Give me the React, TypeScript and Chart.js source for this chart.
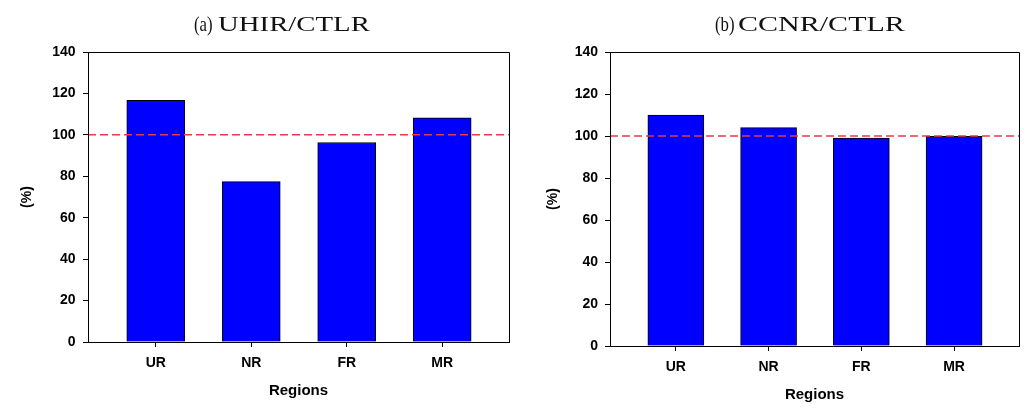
import React, { useEffect, useRef } from "react";
import { Chart, registerables } from "chart.js";

Chart.register(...registerables);

// ---- data ----
const categories = ["UR", "NR", "FR", "MR"];
const uhirValues = [116.7, 77.4, 96.3, 108.2];
const ccnrValues = [110.0, 104.0, 99.0, 99.8];
const referenceLevel = 100;
const yMin = 0;
const yMax = 140;
const yStep = 20;
const xMin = -0.71;
const xMax = 3.7;

const framePlugin = {
  id: "frame",
  afterDraw(chart: any) {
    const { ctx, chartArea } = chart;
    const l = Math.round(chartArea.left) + 0.5;
    const t = Math.round(chartArea.top) + 0.5;
    const r = Math.round(chartArea.right) + 0.5;
    const b = Math.round(chartArea.bottom) + 0.5;
    ctx.save();
    ctx.strokeStyle = "#000";
    ctx.lineWidth = 1;
    ctx.beginPath();
    ctx.moveTo(l, b);
    ctx.lineTo(l, t);
    ctx.lineTo(r, t);
    ctx.lineTo(r, b);
    ctx.lineTo(l, b);
    ctx.stroke();
    ctx.restore();
  },
};

type PanelCfg = {
  values: number[];
  yWidth: number;
  padRight: number;
  xHeight: number;
  xTitlePadBottom: number;
  yTitlePadTop: number;
  barThickness: number;
  yTickPad: number;
};

const tickFont = { family: "'Liberation Sans', Arial, sans-serif", size: 14, weight: "bold" as const };
const xTickFont = { family: "'Liberation Sans', Arial, sans-serif", size: 14, weight: "bold" as const };

function Panel({ cfg }: { cfg: PanelCfg }) {
  const ref = useRef<HTMLCanvasElement | null>(null);
  useEffect(() => {
    if (!ref.current) return;
    const chart = new Chart(ref.current, {
      type: "bar",
      data: {
        datasets: [
          {
            type: "line",
            data: [
              { x: xMin, y: referenceLevel },
              { x: xMax, y: referenceLevel },
            ],
            borderColor: "#e43c4c",
            borderWidth: 1.5,
            borderDash: [8, 4],
            pointRadius: 0,
            order: 1,
          } as any,
          {
            type: "bar",
            data: cfg.values.map((v, i) => ({ x: i, y: v })),
            backgroundColor: "#0000ff",
            borderColor: "#000",
            borderWidth: 1,
            barThickness: cfg.barThickness,
            order: 2,
          } as any,
        ],
      },
      options: {
        animation: false,
        responsive: false,
        devicePixelRatio: 1,
        layout: { padding: { top: 52, right: cfg.padRight, bottom: 0, left: 0 } },
        plugins: {
          legend: { display: false },
          title: { display: false },
          tooltip: { enabled: false },
        },
        scales: {
          x: {
            type: "linear",
            min: xMin,
            max: xMax,
            offset: false,
            afterBuildTicks: (s: any) => {
              s.ticks = categories.map((_, i) => ({ value: i }));
            },
            afterFit: (s: any) => {
              s.height = cfg.xHeight;
            },
            ticks: {
              callback: (v: any) => categories[v as number] ?? "",
              font: xTickFont,
              color: "#000",
              padding: 7.5,
              autoSkip: false,
              maxRotation: 0,
            },
            grid: {
              display: true,
              drawOnChartArea: false,
              drawTicks: true,
              tickLength: 5,
              color: "#000",
              offset: false,
            },
            border: { display: true, color: "#000", width: 1 },
            title: {
              display: true,
              text: "Regions",
              color: "#000",
              font: { family: "'Liberation Sans', Arial, sans-serif", size: 15, weight: "bold" },
              padding: { top: 0, bottom: cfg.xTitlePadBottom },
            },
          },
          y: {
            type: "linear",
            min: yMin,
            max: yMax,
            afterFit: (s: any) => {
              s.width = cfg.yWidth;
            },
            ticks: {
              stepSize: yStep,
              font: tickFont,
              color: "#000",
              padding: cfg.yTickPad,
            },
            grid: {
              display: true,
              drawOnChartArea: false,
              drawTicks: true,
              tickLength: 5,
              color: "#000",
            },
            border: { display: true, color: "#000", width: 1 },
            title: {
              display: true,
              text: "(%)",
              color: "#000",
              font: { family: "'Liberation Sans', Arial, sans-serif", size: 14, weight: "bold" },
              padding: { top: cfg.yTitlePadTop, bottom: 0 },
            },
          },
        },
      } as any,
      plugins: [framePlugin],
    });
    return () => chart.destroy();
  }, [cfg]);
  return <canvas ref={ref} width={518} height={408} style={{ display: "block" }} />;
}

const leftCfg: PanelCfg = {
  values: uhirValues,
  yWidth: 88,
  padRight: 9,
  xHeight: 66,
  xTitlePadBottom: 8,
  yTitlePadTop: 19.1,
  barThickness: 58,
  yTickPad: 7.5,
};

const rightCfg: PanelCfg = {
  values: ccnrValues,
  yWidth: 92,
  padRight: 17,
  xHeight: 62,
  xTitlePadBottom: 4,
  yTitlePadTop: 27.1,
  barThickness: 56,
  yTickPad: 7,
};

const serif = "'Liberation Serif', 'Times New Roman', serif";

function TitlePart({ text, left, scale }: { text: string; left: number; scale: number }) {
  return (
    <span
      style={{
        position: "absolute",
        left,
        top: 14,
        fontFamily: serif,
        fontSize: 21,
        lineHeight: "21px",
        color: "#111",
        whiteSpace: "nowrap",
        transform: `scaleX(${scale})`,
        transformOrigin: "0 0",
      }}
    >
      {text}
    </span>
  );
}

export default function App() {
  return (
    <div
      style={{
        position: "fixed",
        left: 0,
        top: 0,
        width: 1036,
        height: 408,
        background: "#fff",
        overflow: "hidden",
      }}
    >
      <div style={{ position: "absolute", left: 0, top: 0 }}>
        <Panel cfg={leftCfg} />
      </div>
      <div style={{ position: "absolute", left: 518, top: 0 }}>
        <Panel cfg={rightCfg} />
      </div>
      <TitlePart text="(a)" left={194} scale={0.8} />
      <TitlePart text="UHIR/CTLR" left={218} scale={1.37} />
      <TitlePart text="(b)" left={715} scale={0.8} />
      <TitlePart text="CCNR/CTLR" left={738} scale={1.43} />
    </div>
  );
}
